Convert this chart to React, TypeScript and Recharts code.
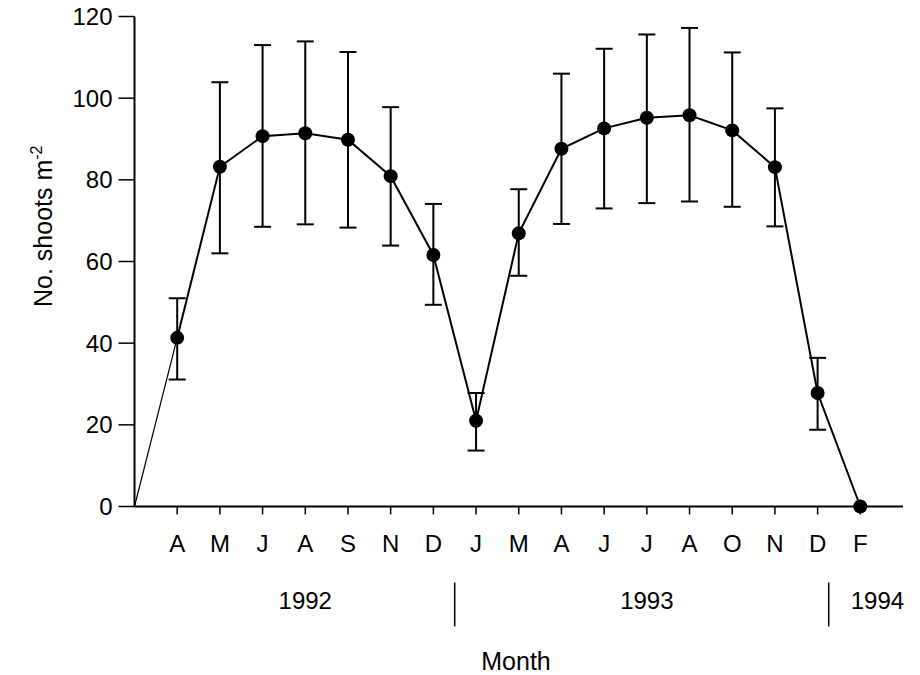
import React from 'react';
import { ComposedChart, Line, XAxis, YAxis, ErrorBar } from 'recharts';

// month ticks, 1992-1994
const monthLabels = ['A', 'M', 'J', 'A', 'S', 'N', 'D', 'J', 'M', 'A', 'J', 'J', 'A', 'O', 'N', 'D', 'F'];
const shootMeans = [41.3, 83.2, 90.7, 91.4, 89.8, 80.9, 61.6, 21.0, 66.9, 87.6, 92.6, 95.2, 95.8, 92.1, 83.1, 27.8, 0];
const shootUpper = [51.0, 103.9, 113.0, 113.9, 111.3, 97.8, 74.1, 27.8, 77.7, 106.0, 112.1, 115.6, 117.2, 111.2, 97.5, 36.4, null];
const shootLower = [31.1, 62.0, 68.5, 69.1, 68.3, 63.9, 49.4, 13.7, 56.5, 69.2, 73.0, 74.3, 74.7, 73.4, 68.6, 18.8, null];

const yTicks = [0, 20, 40, 60, 80, 100, 120];
const yearLabels = ['1992', '1993', '1994'];
const yearCenters = [4, 12, 17.4];
const yearBreaks = [7.5, 16.26];

const FONT = '"Liberation Sans", Arial, Helvetica, sans-serif';

// origin point (no marker) + one row per month
const chartData = [
  { x: 0, lead: 0 },
  ...monthLabels.map((m, i) => {
    const mean = shootMeans[i];
    const up = shootUpper[i];
    const lo = shootLower[i];
    return {
      x: i + 1,
      month: m,
      mean,
      lead: i === 0 ? mean : undefined,
      err: up == null || lo == null ? undefined : [mean - lo, up - mean],
    };
  }),
];

const MonthTick = (props: any) => {
  const { x, y, payload } = props;
  return (
    <text x={x} y={y} dy="0.71em" textAnchor="middle" fontFamily={FONT} fontSize={24} fill="#000">
      {monthLabels[payload.value - 1]}
    </text>
  );
};

const YearTick = (props: any) => {
  const { x, y, payload } = props;
  const bi = yearBreaks.indexOf(payload.value);
  if (bi >= 0) {
    return <line x1={x} x2={x} y1={y + 16} y2={y + 60} stroke="#000" strokeWidth={1.5} />;
  }
  const ci = yearCenters.indexOf(payload.value);
  return (
    <text x={x} y={y + 34} dy="0.355em" textAnchor="middle" fontFamily={FONT} fontSize={24} fill="#000">
      {yearLabels[ci]}
    </text>
  );
};

const YTitle = () => (
  <text
    x={52}
    y={307}
    transform="rotate(-90, 52, 307)"
    textAnchor="start"
    fontFamily={FONT}
    fontSize={25}
    fill="#000"
  >
    No. shoots m
    <tspan dy={-10} fontSize={16}>-2</tspan>
  </text>
);

const MonthTitle = () => (
  <text x={516} y={670} textAnchor="middle" fontFamily={FONT} fontSize={25} fill="#000">
    Month
  </text>
);

const renderDot = (props: any) => {
  const { cx, cy, payload, index } = props;
  if (payload.mean == null) return <g key={`d-${index}`} />;
  return <circle key={`d-${index}`} cx={cx} cy={cy} r={7} fill="#000" />;
};

export default function App() {
  return (
    <div style={{ position: 'fixed', left: 0, top: 0, width: 920, height: 675, background: '#fff' }}>
      <ComposedChart
        width={920}
        height={675}
        data={chartData}
        margin={{ top: 16.5, right: 17, left: 0, bottom: 0 }}
      >
        <XAxis
          dataKey="x"
          type="number"
          domain={[0, 18]}
          ticks={monthLabels.map((_, i) => i + 1)}
          interval={0}
          height={60}
          tick={<MonthTick />}
          tickSize={8}
          tickMargin={20}
          axisLine={{ stroke: '#000', strokeWidth: 2 }}
          tickLine={{ stroke: '#000', strokeWidth: 1.5 }}
        />
        <XAxis
          xAxisId="year"
          dataKey="x"
          type="number"
          domain={[0, 18]}
          ticks={[...yearCenters, ...yearBreaks]}
          interval={0}
          height={108.5}
          tick={<YearTick />}
          tickSize={0}
          tickMargin={0}
          axisLine={false}
          tickLine={false}
          label={<MonthTitle />}
        />
        <YAxis
          type="number"
          domain={[0, 120]}
          ticks={yTicks}
          interval={0}
          width={134.5}
          tickSize={16}
          tickMargin={6}
          tick={{ fontFamily: FONT, fontSize: 24, fill: '#000' }}
          axisLine={{ stroke: '#000', strokeWidth: 2 }}
          tickLine={{ stroke: '#000', strokeWidth: 1.5 }}
          label={<YTitle />}
        />
        <Line
          dataKey="lead"
          type="linear"
          stroke="#000"
          strokeWidth={1.2}
          dot={false}
          activeDot={false}
          isAnimationActive={false}
        />
        <Line
          dataKey="mean"
          type="linear"
          stroke="#000"
          strokeWidth={2}
          dot={renderDot}
          activeDot={false}
          isAnimationActive={false}
        >
          <ErrorBar dataKey="err" direction="y" width={8.5} stroke="#000" strokeWidth={2} />
        </Line>
      </ComposedChart>
    </div>
  );
}
